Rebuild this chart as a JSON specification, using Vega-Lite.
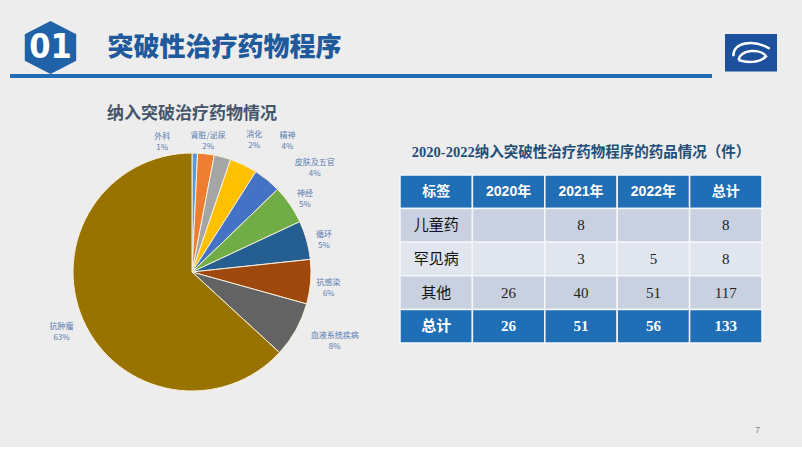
{
  "$schema": "https://vega.github.io/schema/vega-lite/v6.json",
  "background": "#ededed",
  "padding": {"left": 10, "top": 15, "right": 26, "bottom": 12},
  "config": {"view": {"stroke": null}},
  "datasets": {
    "header": [{"badge": "01", "title": "突破性治疗药物程序", "page": "7"}],
    "pie": [
      {"category": "外科", "count": 1, "label": ["外科", "1%"]},
      {"category": "肾脏/泌尿", "count": 3, "label": ["肾脏/泌尿", "2%"]},
      {"category": "消化", "count": 3, "label": ["消化", "2%"]},
      {"category": "精神", "count": 5, "label": ["精神", "4%"]},
      {"category": "皮肤及五官", "count": 5, "label": ["皮肤及五官", "4%"]},
      {"category": "神经", "count": 7, "label": ["神经", "5%"]},
      {"category": "循环", "count": 7, "label": ["循环", "5%"]},
      {"category": "抗感染", "count": 8, "label": ["抗感染", "6%"]},
      {"category": "血液系统疾病", "count": 10, "label": ["血液系统疾病", "8%"]},
      {"category": "抗肿瘤", "count": 84, "label": ["抗肿瘤", "63%"]}
    ],
    "cells": [
      {"row": "标签", "col": "标签", "value": null},
      {"row": "标签", "col": "2020年", "value": null},
      {"row": "标签", "col": "2021年", "value": null},
      {"row": "标签", "col": "2022年", "value": null},
      {"row": "标签", "col": "总计", "value": null},
      {"row": "儿童药", "col": "标签", "value": null},
      {"row": "儿童药", "col": "2020年", "value": null},
      {"row": "儿童药", "col": "2021年", "value": 8},
      {"row": "儿童药", "col": "2022年", "value": null},
      {"row": "儿童药", "col": "总计", "value": 8},
      {"row": "罕见病", "col": "标签", "value": null},
      {"row": "罕见病", "col": "2020年", "value": null},
      {"row": "罕见病", "col": "2021年", "value": 3},
      {"row": "罕见病", "col": "2022年", "value": 5},
      {"row": "罕见病", "col": "总计", "value": 8},
      {"row": "其他", "col": "标签", "value": null},
      {"row": "其他", "col": "2020年", "value": 26},
      {"row": "其他", "col": "2021年", "value": 40},
      {"row": "其他", "col": "2022年", "value": 51},
      {"row": "其他", "col": "总计", "value": 117},
      {"row": "总计", "col": "标签", "value": null},
      {"row": "总计", "col": "2020年", "value": 26},
      {"row": "总计", "col": "2021年", "value": 51},
      {"row": "总计", "col": "2022年", "value": 56},
      {"row": "总计", "col": "总计", "value": 133}
    ]
  },
  "resolve": {"scale": {"color": "independent"}},
  "bounds": "flush",
  "spacing": 0,
  "vconcat": [
    {
      "bounds": "flush",
      "spacing": 0,
      "hconcat": [
        {
          "width": 81,
          "height": 53,
          "data": {"name": "header"},
          "layer": [
            {"mark": {"type": "point", "shape": "M0,-1L0.97,-0.5L0.97,0.5L0,1L-0.97,0.5L-0.97,-0.5Z", "filled": true, "fill": "#1f62a8", "opacity": 1, "size": 2809}, "encoding": {}},
            {"mark": {"type": "text", "font": "Liberation Sans Narrow, DejaVu Sans Condensed, Liberation Sans", "fontSize": 34, "fontWeight": "bold", "color": "#ffffff", "baseline": "middle"}, "encoding": {"text": {"field": "badge"}}}
          ]
        },
        {
          "width": 267,
          "height": 53,
          "data": {"name": "header"},
          "mark": {"type": "text", "font": "Noto Sans CJK SC", "fontSize": 26, "fontWeight": 900, "color": "#1e5a9c", "baseline": "middle"},
          "encoding": {"text": {"field": "title"}}
        },
        {
          "width": 368,
          "height": 1,
          "data": {"name": "header"},
          "mark": {"type": "text"},
          "encoding": {"text": {"value": ""}}
        },
        {
          "width": 50,
          "height": 53,
          "data": {"name": "header"},
          "layer": [
            {"mark": {"type": "point", "shape": "M-1.04,-0.54H1.04V0.96H-1.04Z", "filled": true, "fill": "#1c4f9c", "opacity": 1, "size": 2500}, "encoding": {}},
            {"mark": {"type": "point", "shape": "M-0.7,0.35C-0.75,-0.2 0.1,-0.35 0.75,0.05M-0.5,0.5C-0.4,0.05 0.4,0.05 0.6,0.35C0.3,0.65 -0.2,0.6 -0.5,0.5", "filled": false, "stroke": "#ffffff", "strokeWidth": 2.5, "opacity": 1, "size": 2500}, "encoding": {}}
          ]
        }
      ]
    },
    {
      "width": 702,
      "height": 53,
      "data": {"name": "header"},
      "mark": {"type": "text"},
      "encoding": {"text": {"value": ""}}
    },
    {
      "width": 702,
      "height": 4,
      "data": {"name": "header"},
      "mark": {"type": "rect", "color": "#1f6db5"},
      "encoding": {}
    },
    {
      "width": 702,
      "height": 97,
      "title": {"text": "7", "orient": "bottom", "anchor": "end", "frame": "group", "fontSize": 9, "fontWeight": "normal", "color": "#8a8a8a", "font": "Liberation Sans", "offset": 251, "dx": 48},
      "data": {"name": "header"},
      "mark": {"type": "text"},
      "encoding": {"text": {"value": ""}}
    },
    {
      "bounds": "flush",
      "spacing": 26,
      "resolve": {"scale": {"color": "independent"}},
      "hconcat": [
        {
          "width": 364,
          "height": 194,
          "title": {"text": "纳入突破治疗药物情况", "frame": "group", "font": "Noto Sans CJK SC", "fontSize": 17, "fontWeight": "bold", "color": "#44546a", "offset": -5},
          "data": {"name": "pie"},
          "encoding": {
            "theta": {"field": "count", "type": "quantitative", "stack": true},
            "order": {"field": "count", "type": "quantitative", "sort": "ascending"}
          },
          "layer": [
            {
              "mark": {"type": "arc", "outerRadius": 119, "stroke": "#f8f0dc", "strokeWidth": 1},
              "encoding": {
                "color": {"field": "category", "type": "nominal", "legend": null,
                  "scale": {"domain": ["外科", "肾脏/泌尿", "消化", "精神", "皮肤及五官", "神经", "循环", "抗感染", "血液系统疾病", "抗肿瘤"],
                            "range": ["#5b9bd5", "#ed7d31", "#a5a5a5", "#ffc000", "#4472c4", "#70ad47", "#255e91", "#9e480e", "#636363", "#997300"]}}
              }
            },
            {
              "mark": {"type": "text", "radius": 137, "font": "Noto Sans CJK SC", "fontSize": 8, "lineHeight": 11, "color": "#5a7bb0", "baseline": "middle"},
              "encoding": {
                "detail": {"field": "category", "type": "nominal"},
                "text": {"condition": {"test": "indexof(['肾脏/泌尿','神经','循环','抗感染'], datum.category) >= 0", "field": "label"}, "value": ""}
              }
            },
            {
              "mark": {"type": "text", "radius": 137, "dx": -5, "font": "Noto Sans CJK SC", "fontSize": 8, "lineHeight": 11, "color": "#5a7bb0", "baseline": "middle"},
              "encoding": {
                "detail": {"field": "category", "type": "nominal"},
                "text": {"condition": {"test": "datum.category === '抗肿瘤'", "field": "label"}, "value": ""}
              }
            },
            {
              "mark": {"type": "text", "radius": 137, "dx": -33, "dy": 2, "font": "Noto Sans CJK SC", "fontSize": 8, "lineHeight": 11, "color": "#5a7bb0", "baseline": "middle"},
              "encoding": {
                "detail": {"field": "category", "type": "nominal"},
                "text": {"condition": {"test": "datum.category === '外科'", "field": "label"}, "value": ""}
              }
            },
            {
              "mark": {"type": "text", "radius": 137, "dx": 27, "dy": -5, "font": "Noto Sans CJK SC", "fontSize": 8, "lineHeight": 11, "color": "#5a7bb0", "baseline": "middle"},
              "encoding": {
                "detail": {"field": "category", "type": "nominal"},
                "text": {"condition": {"test": "datum.category === '消化'", "field": "label"}, "value": ""}
              }
            },
            {
              "mark": {"type": "text", "radius": 137, "dx": 36, "dy": -13, "font": "Noto Sans CJK SC", "fontSize": 8, "lineHeight": 11, "color": "#5a7bb0", "baseline": "middle"},
              "encoding": {
                "detail": {"field": "category", "type": "nominal"},
                "text": {"condition": {"test": "datum.category === '精神'", "field": "label"}, "value": ""}
              }
            },
            {
              "mark": {"type": "text", "radius": 137, "dx": 36, "dy": -3, "font": "Noto Sans CJK SC", "fontSize": 8, "lineHeight": 11, "color": "#5a7bb0", "baseline": "middle"},
              "encoding": {
                "detail": {"field": "category", "type": "nominal"},
                "text": {"condition": {"test": "datum.category === '皮肤及五官'", "field": "label"}, "value": ""}
              }
            },
            {
              "mark": {"type": "text", "radius": 137, "dx": 23, "dy": -3, "font": "Noto Sans CJK SC", "fontSize": 8, "lineHeight": 11, "color": "#5a7bb0", "baseline": "middle"},
              "encoding": {
                "detail": {"field": "category", "type": "nominal"},
                "text": {"condition": {"test": "datum.category === '血液系统疾病'", "field": "label"}, "value": ""}
              }
            }
          ]
        },
        {
          "width": 362,
          "height": 168,
          "title": {"text": "2020-2022纳入突破性治疗药物程序的药品情况（件）", "frame": "group", "font": "Liberation Serif, Noto Sans CJK SC", "fontSize": 14.5, "fontWeight": "bold", "color": "#1f4e79", "offset": 14},
          "data": {"name": "cells"},
          "encoding": {
            "x": {"field": "col", "type": "nominal", "axis": null, "scale": {"domain": ["标签", "2020年", "2021年", "2022年", "总计"], "paddingInner": 0, "paddingOuter": 0}},
            "y": {"field": "row", "type": "nominal", "axis": null, "scale": {"domain": ["标签", "儿童药", "罕见病", "其他", "总计"], "paddingInner": 0, "paddingOuter": 0}}
          },
          "layer": [
            {
              "mark": {"type": "rect", "stroke": "#f4f6fa", "strokeWidth": 1.5},
              "encoding": {
                "color": {"field": "row", "type": "nominal", "legend": null,
                  "scale": {"domain": ["标签", "儿童药", "罕见病", "其他", "总计"], "range": ["#1f6eb6", "#c9d1e0", "#e1e5ee", "#c9d1e0", "#1f6eb6"]}}
              }
            },
            {
              "transform": [{"filter": "datum.row === '标签'"}],
              "mark": {"type": "text", "font": "Liberation Sans, Noto Sans CJK SC", "fontSize": 14, "fontWeight": "bold", "color": "#ffffff", "baseline": "middle"},
              "encoding": {"text": {"field": "col"}}
            },
            {
              "transform": [{"filter": "datum.col === '标签' && datum.row !== '标签' && datum.row !== '总计'"}],
              "mark": {"type": "text", "font": "Noto Sans CJK SC", "fontSize": 15, "color": "#111111", "baseline": "middle"},
              "encoding": {"text": {"field": "row"}}
            },
            {
              "transform": [{"filter": "datum.col !== '标签' && datum.row !== '标签' && datum.row !== '总计' && datum.value != null"}],
              "mark": {"type": "text", "font": "Liberation Serif", "fontSize": 15, "color": "#222222", "baseline": "middle"},
              "encoding": {"text": {"field": "value", "type": "quantitative"}}
            },
            {
              "transform": [{"filter": "datum.row === '总计' && datum.col === '标签'"}],
              "mark": {"type": "text", "font": "Noto Sans CJK SC", "fontSize": 15, "fontWeight": "bold", "color": "#ffffff", "baseline": "middle"},
              "encoding": {"text": {"field": "row"}}
            },
            {
              "transform": [{"filter": "datum.row === '总计' && datum.col !== '标签'"}],
              "mark": {"type": "text", "font": "Liberation Serif", "fontSize": 15, "fontWeight": "bold", "color": "#ffffff", "baseline": "middle"},
              "encoding": {"text": {"field": "value", "type": "quantitative"}}
            }
          ]
        }
      ]
    }
  ]
}
